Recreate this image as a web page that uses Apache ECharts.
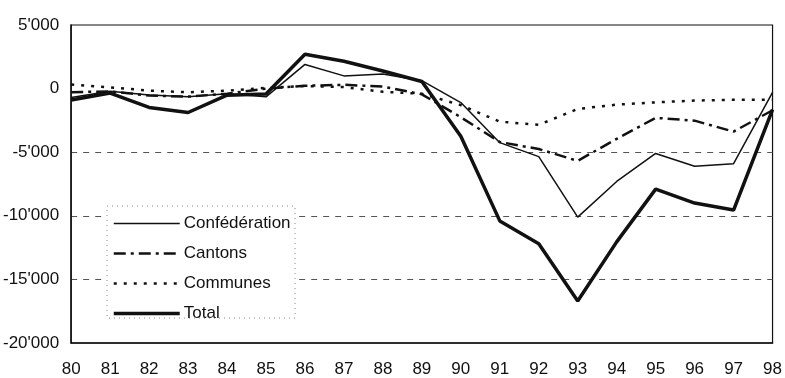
<!DOCTYPE html>
<html>
<head>
<meta charset="utf-8">
<script src="https://cdn.jsdelivr.net/npm/echarts@6/dist/echarts.min.js"></script>
<style>
  html, body { margin: 0; padding: 0; background: #fff; }
  #chart { width: 785px; height: 378px; }
</style>
</head>
<body>
<div id="chart"></div>
<script>
// Years (19xx) on the category axis
const years = ['80','81','82','83','84','85','86','87','88','89','90','91','92','93','94','95','96','97','98'];

// Balances in millions of francs
const confederation = [-700, -200, -500, -650, -400, -650, 1900, 1000, 1150, 620, -1100, -4250, -5350, -10100, -7300, -5100, -6100, -5900, -300];
const cantons       = [-280, -220, -550, -630, -400, 0, 220, 300, 160, -450, -2250, -4200, -4750, -5680, -3950, -2300, -2520, -3380, -1700];
const communes      = [320, 100, -160, -290, -160, 50, 200, 120, -250, -400, -1300, -2600, -2850, -1600, -1260, -1080, -940, -880, -880];
const total         = [-900, -350, -1480, -1880, -520, -420, 2700, 2150, 1380, 560, -3750, -10400, -12200, -16700, -12050, -7900, -9000, -9550, -1650];

// Value axis ticks
const yMin = -20000, yMax = 5000, yStep = 5000;

const ink = '#111';
const fontFamily = '"Liberation Sans", Arial, Helvetica, sans-serif';

function swissThousands(v) {
  const s = String(Math.abs(v)).replace(/\B(?=(\d{3})+(?!\d))/g, "'");
  return (v < 0 ? '-' : '') + s;
}

const styles = {
  'Confédération': { color: ink, width: 1.5, type: 'solid' },
  'Cantons':       { color: ink, width: 2.5, type: [12, 5, 3, 5] },
  'Communes':      { color: ink, width: 2.5, type: [3, 7] },
  'Total':         { color: ink, width: 3.5, type: 'solid' }
};

const chart = echarts.init(document.getElementById('chart'), null, { renderer: 'canvas' });

chart.setOption({
  animation: false,
  backgroundColor: '#fff',
  grid: {
    left: 68, right: 11, top: 25, bottom: 35,
    show: true, borderColor: ink, borderWidth: 1.2, backgroundColor: 'transparent'
  },
  xAxis: {
    type: 'category',
    data: years,
    boundaryGap: false,
    axisLine: { onZero: false, lineStyle: { color: ink, width: 1.5 } },
    axisTick: { show: false },
    axisLabel: { color: ink, fontSize: 17, fontFamily: fontFamily, margin: 18 },
    splitLine: { show: false }
  },
  yAxis: {
    type: 'value',
    min: yMin, max: yMax, interval: yStep,
    axisLine: { show: true, lineStyle: { color: ink, width: 1.5 } },
    axisTick: { show: false },
    axisLabel: { color: ink, fontSize: 17, fontFamily: fontFamily, margin: 12, formatter: swissThousands },
    splitLine: {
      show: true,
      lineStyle: {
        color: ['transparent', '#555', '#555', '#555', 'transparent', 'transparent'],
        type: [6, 6], width: 1
      }
    }
  },
  legend: {
    orient: 'vertical',
    left: 112, top: 215,
    padding: 0,
    itemWidth: 66, itemHeight: 1, itemGap: 13,
    itemStyle: { opacity: 0 },
    backgroundColor: 'transparent',
    textStyle: { color: ink, fontSize: 17, fontFamily: fontFamily, padding: [0, 0, 0, -1] },
    data: Object.keys(styles).map(function (name) {
      return { name: name, lineStyle: styles[name], itemStyle: { opacity: 0 } };
    }),
    z: 5
  },
  graphic: [{
    type: 'rect',
    z: 3,
    shape: { x: 107, y: 206, width: 188, height: 112 },
    style: { fill: '#fff', stroke: '#888', lineWidth: 1, lineDash: [1, 4] }
  }],
  series: [
    { name: 'Confédération', type: 'line', data: confederation, symbol: 'none', color: ink, lineStyle: styles['Confédération'] },
    { name: 'Cantons',       type: 'line', data: cantons,       symbol: 'none', color: ink, lineStyle: styles['Cantons'] },
    { name: 'Communes',      type: 'line', data: communes,      symbol: 'none', color: ink, lineStyle: styles['Communes'] },
    { name: 'Total',         type: 'line', data: total,         symbol: 'none', color: ink, lineStyle: styles['Total'] }
  ]
});
</script>
</body>
</html>
